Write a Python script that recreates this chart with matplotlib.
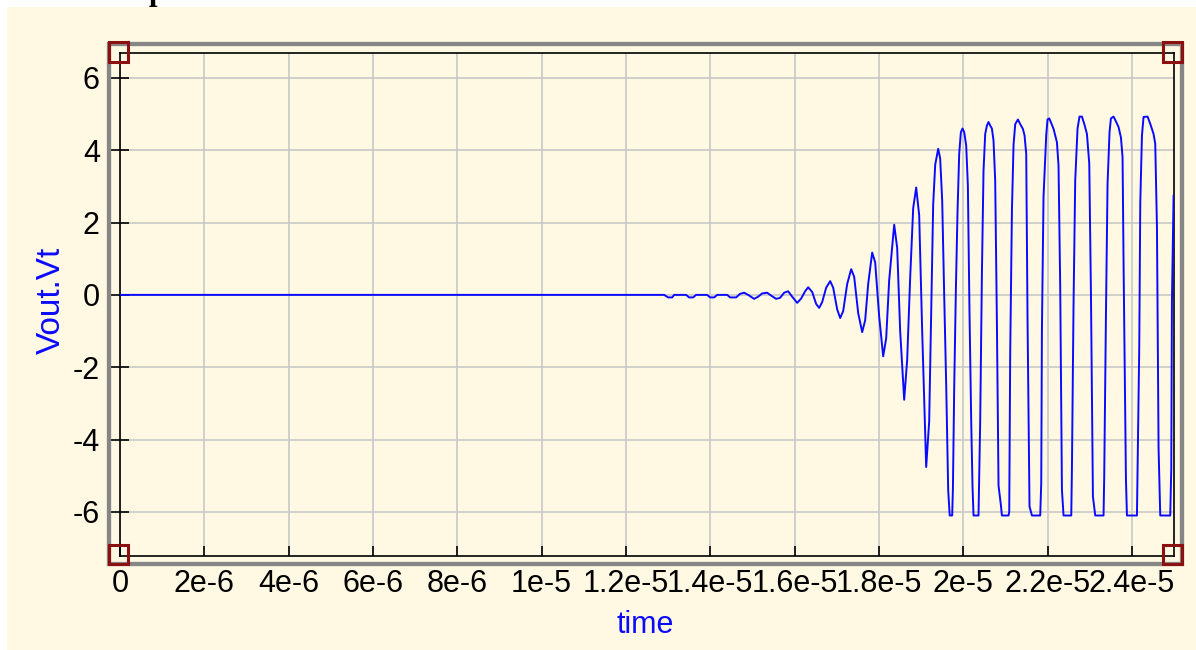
import matplotlib
matplotlib.use("Agg")
import matplotlib.pyplot as plt
from matplotlib.patches import Rectangle

plt.rcParams['font.family'] = ['Liberation Sans', 'DejaVu Sans']

# ---------------- data ----------------
# time in microseconds
t_us = [0.0, 12.906, 13.001, 13.096, 13.144, 13.428, 13.499, 13.594, 13.665, 13.926,
        13.998, 14.093, 14.164, 14.401, 14.472, 14.614, 14.709, 14.804, 14.899, 15.042,
        15.136, 15.231, 15.350, 15.445, 15.563, 15.658, 15.753, 15.848, 15.943, 16.062,
        16.157, 16.251, 16.323, 16.418, 16.512, 16.584, 16.655, 16.750, 16.845, 16.916,
        17.011, 17.082, 17.153, 17.248, 17.343, 17.414, 17.509, 17.604, 17.675, 17.746,
        17.841, 17.912, 18.007, 18.102, 18.173, 18.244, 18.363, 18.434, 18.505, 18.600,
        18.671, 18.743, 18.814, 18.885, 18.956, 19.027, 19.122, 19.193, 19.241, 19.288,
        19.336, 19.407, 19.454, 19.502, 19.549, 19.597, 19.644, 19.680, 19.739, 19.756,
        19.787, 19.827, 19.865, 19.905, 19.945, 19.984, 20.024, 20.071, 20.111, 20.149,
        20.190, 20.221, 20.245, 20.363, 20.380, 20.403, 20.444, 20.482, 20.522, 20.562,
        20.600, 20.641, 20.681, 20.719, 20.759, 20.800, 20.838, 20.895, 20.918, 21.075,
        21.092, 21.115, 21.156, 21.194, 21.234, 21.298, 21.353, 21.416, 21.455, 21.495,
        21.526, 21.573, 21.630, 21.827, 21.851, 21.867, 21.905, 21.969, 22.000, 22.040,
        22.064, 22.143, 22.223, 22.261, 22.301, 22.342, 22.380, 22.563, 22.579, 22.617,
        22.657, 22.712, 22.759, 22.816, 22.871, 22.935, 22.990, 23.030, 23.077, 23.132,
        23.329, 23.345, 23.386, 23.424, 23.471, 23.504, 23.566, 23.630, 23.685, 23.742,
        23.780, 23.804, 23.860, 23.884, 24.121, 24.145, 24.176, 24.200, 24.240, 24.278,
        24.373, 24.437, 24.515, 24.555, 24.596, 24.634, 24.674, 24.911, 24.935, 24.951,
        24.990]

v_out = [0.0, 0.0, -0.07, -0.07, 0.0, 0.0, -0.07, -0.07, 0.0, 0.0,
         -0.07, -0.07, 0.0, 0.0, -0.07, -0.07, 0.03, 0.06, 0.0, -0.11,
         -0.05, 0.04, 0.06, -0.02, -0.11, -0.08, 0.06, 0.10, -0.05, -0.22,
         -0.10, 0.10, 0.21, 0.08, -0.25, -0.36, -0.20, 0.20, 0.38, 0.20,
         -0.40, -0.64, -0.45, 0.30, 0.71, 0.50, -0.50, -1.03, -0.70, 0.30,
         1.17, 0.90, -0.60, -1.70, -1.20, 0.40, 1.94, 1.30, -1.00, -2.90,
         -1.80, 0.50, 2.40, 2.97, 2.20, -1.00, -4.76, -3.50, -0.50, 2.50,
         3.60, 4.04, 3.77, 2.60, 0.00, -2.50, -5.40, -6.10, -6.10, -5.36,
         -2.54, 0.19, 2.28, 3.90, 4.50, 4.60, 4.50, 4.13, 3.02, -0.45,
         -3.50, -5.30, -6.10, -6.10, -5.03, -3.50, 0.61, 3.44, 4.45, 4.68,
         4.78, 4.68, 4.60, 4.27, 3.16, -0.82, -5.27, -5.82, -6.10, -6.10,
         -6.00, -1.60, 2.35, 4.15, 4.72, 4.85, 4.72, 4.59, 4.41, 3.90,
         -0.67, -5.85, -6.10, -6.10, -5.20, -1.00, 2.71, 4.41, 4.85, 4.88,
         4.82, 4.59, 4.22, 3.58, 0.24, -5.39, -6.10, -6.10, -4.80, -0.27,
         3.16, 4.60, 4.93, 4.93, 4.73, 4.45, 3.63, 0.05, -5.58, -6.10,
         -6.10, -5.00, -0.54, 3.07, 4.50, 4.88, 4.93, 4.78, 4.64, 4.35,
         3.80, 0.85, -5.10, -6.10, -6.10, -3.97, -1.42, 2.55, 4.41, 4.92,
         4.93, 4.73, 4.45, 4.18, 1.86, -4.25, -6.10, -6.10, -4.80, -0.17,
         2.74]

x_ticks_us = [0, 2, 4, 6, 8, 10, 12, 14, 16, 18, 20, 22, 24]
x_tick_labels = ["0", "2e-6", "4e-6", "6e-6", "8e-6", "1e-5", "1.2e-5", "1.4e-5",
                 "1.6e-5", "1.8e-5", "2e-5", "2.2e-5", "2.4e-5"]
y_ticks = [-6, -4, -2, 0, 2, 4, 6]
y_tick_labels = ["-6", "-4", "-2", "0", "2", "4", "6"]

# ---------------- figure ----------------
W, H = 1196, 650
CREAM = '#FFF8E2'
BLUE = '#0A0AFF'

fig = plt.figure(figsize=(W / 100, H / 100), dpi=100)
fig.patch.set_facecolor('white')

def fx(px):
    return px / W

def fy(py):
    return 1 - py / H

fig.add_artist(Rectangle((fx(7), 0), 1 - fx(7), fy(7), transform=fig.transFigure,
                         facecolor=CREAM, edgecolor='none', zorder=-10))

ax = fig.add_axes([fx(120), fy(556), fx(1174) - fx(120), fy(53.3) - fy(556)])
ax.set_facecolor('none')
ax.plot(t_us, v_out, color=BLUE, lw=1.4, zorder=3)
ax.set_xlim(0, 25.0)
ax.set_ylim(-7.22, 6.68)
ax.set_xticks(x_ticks_us)
ax.set_xticklabels(x_tick_labels)
ax.set_yticks(y_ticks)
ax.set_yticklabels(y_tick_labels)
ax.grid(True, color='#C8C8C8', lw=1.2)
ax.set_axisbelow(True)
for s in ax.spines.values():
    s.set_color('black')
    s.set_linewidth(1.2)
ax.tick_params(axis='x', direction='in', length=7, width=1.2, pad=9,
               labelsize=22, colors='black')
ax.tick_params(axis='y', direction='inout', length=13, width=1.2, pad=8,
               labelsize=22, colors='black')

fig.text(fx(645), fy(625), 'time', color=BLUE, fontsize=22, ha='center', va='center')
fig.text(fx(51), fy(300), 'Vout.Vt', color=BLUE, fontsize=24, ha='center', va='center',
         rotation=90)

# gray frame
fig.add_artist(Rectangle((fx(109), fy(564)), fx(1182) - fx(109), fy(44) - fy(564),
                         transform=fig.transFigure, fill=False, edgecolor='#868686',
                         lw=3.1, zorder=4))
# red corner handles
for cx, cy in [(118, 52), (1172, 52), (118, 554), (1172, 554)]:
    fig.add_artist(Rectangle((fx(cx - 9.5), fy(cy + 9.5)), fx(19), fy(0) - fy(19),
                             transform=fig.transFigure, fill=False,
                             edgecolor='#8B1010', lw=2.2, zorder=5))

# cut-off title (only its descender is visible in the reference)
fig.text(fx(149), 1.0, 'p', fontsize=22, fontweight='bold', family='Liberation Serif',
         ha='left', va='baseline')

fig.savefig('out.png', dpi=100)
